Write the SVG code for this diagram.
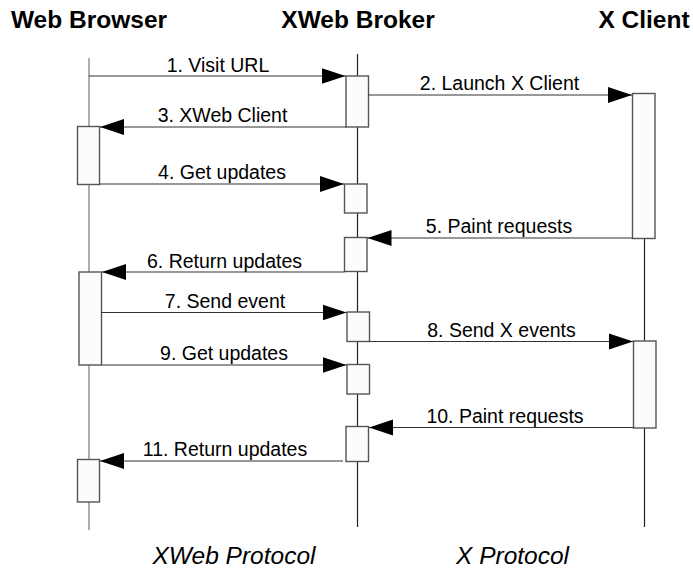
<svg xmlns="http://www.w3.org/2000/svg" width="693" height="574" viewBox="0 0 693 574">
<style>
.hdr{font-family:"Liberation Sans",Arial,sans-serif;font-weight:bold;font-size:24.5px;fill:#000;text-anchor:middle}
.lbl{font-family:"Liberation Sans",Arial,sans-serif;font-size:19.5px;fill:#000;text-anchor:middle}
.foot{font-family:"Liberation Sans",Arial,sans-serif;font-style:italic;font-size:24.5px;fill:#000;text-anchor:middle}
.life{stroke:#222;stroke-width:1.2;fill:none}
.act{fill:#fcfcfc;stroke:#555;stroke-width:1.4}
.msg{stroke:#333;stroke-width:1.2;fill:none;marker-end:url(#ah)}
</style>
<defs>
<marker id="ah" markerUnits="userSpaceOnUse" markerWidth="25" markerHeight="17" viewBox="0 0 25 17" refX="24" refY="8.5" orient="auto">
<path d="M0,0.5 L24,8.5 L0,16.5 z" fill="#000"/>
</marker>
</defs>
<rect width="693" height="574" fill="#fff"/>
<g id="web-browser">
<text class="hdr" x="89" y="28">Web Browser</text>
<line class="life" x1="89" y1="58" x2="89" y2="530" style="stroke:#777"/>
<rect class="act" x="77.5" y="126.5" width="22" height="58"/>
<rect class="act" x="79" y="272" width="22.5" height="93"/>
<rect class="act" x="77.5" y="459.5" width="22" height="42.5"/>
</g>
<g id="xweb-broker">
<text class="hdr" x="358" y="28">XWeb Broker</text>
<line class="life" x1="357.5" y1="54" x2="357.5" y2="527"/>
<rect class="act" x="346" y="76" width="22.5" height="51"/>
<rect class="act" x="344.5" y="184" width="22.5" height="29"/>
<rect class="act" x="344.5" y="237.5" width="22.5" height="34"/>
<rect class="act" x="347" y="312" width="22.5" height="29.5"/>
<rect class="act" x="347" y="364.5" width="22.5" height="29.5"/>
<rect class="act" x="346" y="426.5" width="22.5" height="35"/>
</g>
<g id="x-client">
<text class="hdr" x="644" y="28">X Client</text>
<line class="life" x1="644.5" y1="238" x2="644.5" y2="527"/>
<rect class="act" x="632.5" y="93.5" width="22.5" height="145"/>
<rect class="act" x="633.5" y="341" width="22.5" height="87"/>
</g>
<g id="connectors">
<line class="msg" x1="89" y1="76" x2="345.5" y2="76"/>
<line class="msg" x1="368.5" y1="95" x2="632" y2="95"/>
<line class="msg" x1="346" y1="127" x2="100" y2="127"/>
<line class="msg" x1="99.5" y1="184" x2="344" y2="184"/>
<line class="msg" x1="632.5" y1="238" x2="367.5" y2="238"/>
<line class="msg" x1="344.5" y1="272" x2="102" y2="272"/>
<line class="msg" x1="101.5" y1="312.5" x2="346.5" y2="312.5"/>
<line class="msg" x1="369.5" y1="341.5" x2="633" y2="341.5"/>
<line class="msg" x1="101.5" y1="365" x2="346.5" y2="365"/>
<line class="msg" x1="633.5" y1="427.5" x2="369" y2="427.5"/>
<line class="msg" x1="343" y1="461" x2="100" y2="461"/>
</g>
<g id="labels">
<text class="lbl" x="218" y="72">1. Visit URL</text>
<text class="lbl" x="499.5" y="90">2. Launch X Client</text>
<text class="lbl" x="222.5" y="122">3. XWeb Client</text>
<text class="lbl" x="222" y="179">4. Get updates</text>
<text class="lbl" x="499" y="233">5. Paint requests</text>
<text class="lbl" x="224.5" y="268">6. Return updates</text>
<text class="lbl" x="225" y="307.5">7. Send event</text>
<text class="lbl" x="501.5" y="336.5">8. Send X events</text>
<text class="lbl" x="224" y="360">9. Get updates</text>
<text class="lbl" x="505" y="422.5">10. Paint requests</text>
<text class="lbl" x="225" y="456">11. Return updates</text>
</g>
<g id="footer">
<text class="foot" x="234" y="564">XWeb Protocol</text>
<text class="foot" x="512.5" y="564">X Protocol</text>
</g>
</svg>
